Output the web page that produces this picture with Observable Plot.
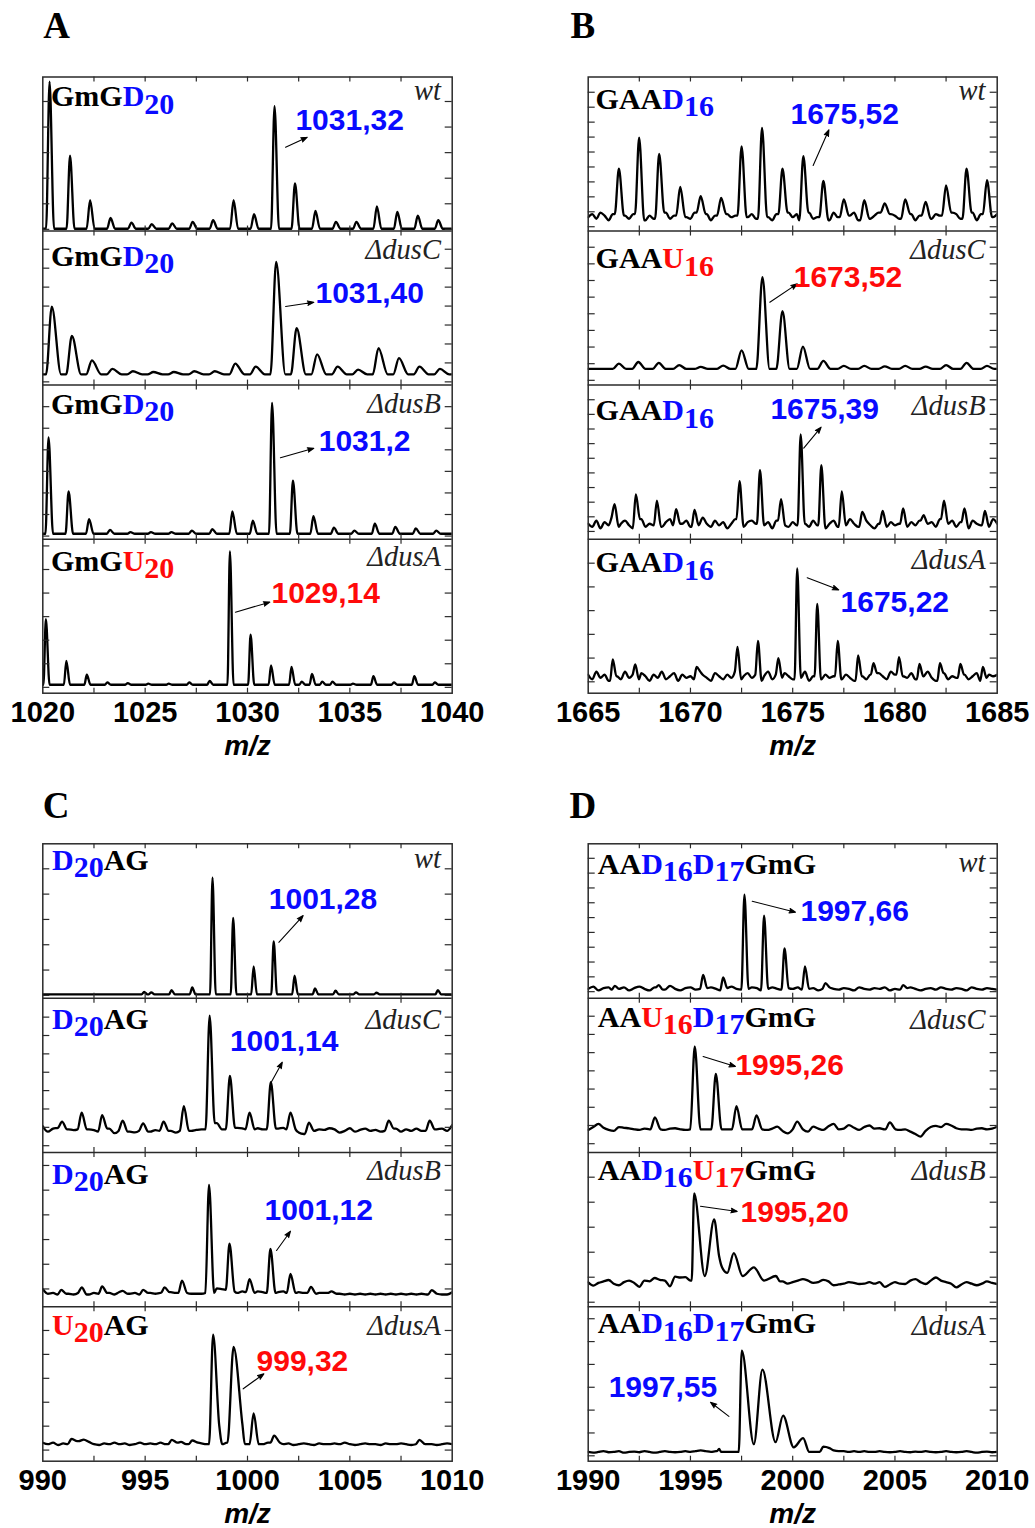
<!DOCTYPE html>
<html>
<head>
<meta charset="utf-8">
<script src="https://cdn.jsdelivr.net/npm/d3@7"></script>
<script src="https://cdn.jsdelivr.net/npm/@observablehq/plot@0.6"></script>
<style>
  html, body { margin: 0; padding: 0; background: #fff; }
  #fig { position: relative; width: 1035px; height: 1528px; background: #fff; overflow: hidden; }
  #fig > div { position: absolute; }
</style>
</head>
<body>
<div id="fig"></div>
<script>
// ---------------- data ----------------
const strains = ["wt", "ΔdusC", "ΔdusB", "ΔdusA"];

const domainA = [1020, 1040], domainB = [1665, 1685], domainC = [990, 1010], domainD = [1990, 2010];
const ticksA = [1020, 1025, 1030, 1035, 1040];
const ticksB = [1665, 1670, 1675, 1680, 1685];
const ticksC = [990, 995, 1000, 1005, 1010];
const ticksD = [1990, 1995, 2000, 2005, 2010];
const minorA = [1022.5, 1027.5, 1032.5, 1037.5];
const minorB = [1667.5, 1672.5, 1677.5, 1682.5];
const minorC = [992.5, 997.5, 1002.5, 1007.5];
const minorD = [1992.5, 1997.5, 2002.5, 2007.5];

const seqA = ["GmGD20", "GmGD20", "GmGD20", "GmGU20"];
const seqB = ["GAAD16", "GAAU16", "GAAD16", "GAAD16"];
const seqC = ["D20AG", "D20AG", "D20AG", "U20AG"];
const seqD = ["AAD16D17GmG", "AAU16D17GmG", "AAD16U17GmG", "AAD16D17GmG"];

const massA = ["1031,32", "1031,40", "1031,2", "1029,14"];
const massB = ["1675,52", "1673,52", "1675,39", "1675,22"];
const massC = ["1001,28", "1001,14", "1001,12", "999,32"];
const massD = ["1997,66", "1995,26", "1995,20", "1997,55"];

// peak lists: [m/z, relative intensity (0-100 of sub-panel), optional left/right half-width]
const peaksA_wt = [[1020.33,97],[1021.33,49],[1022.31,20],[1023.31,8.5],[1024.33,5.5],[1025.32,4.5],[1026.32,5],[1027.32,6],[1028.32,7],[1029.32,20],[1030.32,11],[1031.32,81],[1032.32,31],[1033.32,13],[1034.32,6],[1035.32,6],[1036.32,16],[1037.32,12.5],[1038.32,10],[1039.32,7]];
const peaksA_dusC = [[1020.44,51],[1021.42,32],[1022.4,16],[1023.4,10.5],[1024.4,9],[1025.4,8.5],[1026.4,8.5],[1027.4,9],[1028.4,9],[1029.4,14],[1030.4,12],[1031.4,80],[1032.4,37],[1033.4,20],[1034.4,12],[1035.4,10],[1036.4,24],[1037.4,17.5],[1038.4,12],[1039.4,10.5]];
const peaksA_dusB = [[1020.28,66],[1021.26,31],[1022.26,13],[1023.28,6],[1024.28,4.5],[1025.28,4.5],[1026.28,4.5],[1027.28,5.5],[1028.28,6.5],[1029.26,18],[1030.26,12],[1031.2,88.5],[1032.22,38],[1033.22,15],[1034.22,7.5],[1035.22,5.5],[1036.22,10],[1037.22,8],[1038.22,7],[1039.22,5.5]];
const peaksA_dusA = [[1020.15,48],[1021.15,21],[1022.15,12],[1023.15,7],[1024.15,6.5],[1025.15,6.2],[1026.15,6.2],[1027.15,7],[1028.15,8],[1029.14,92],[1030.15,38],[1031.15,18],[1032.15,17],[1032.65,7.5],[1033.15,12.5],[1033.65,7.5],[1034.15,7.5],[1035.15,6.2],[1036.15,11],[1037.15,7],[1038.15,11],[1039.15,7]];

const peaksB_wt = [[1666.5,40.5],[1667.49,60.6],[1668.47,50],[1669.5,28.6],[1670.5,22.7],[1671.5,21.6],[1672.5,55],[1673.5,67],[1674.5,40.5],[1675.52,48.7],[1676.5,32.5],[1677.5,20.6],[1678.5,20],[1679.5,18],[1680.5,20.6],[1681.5,19],[1682.5,29.7],[1683.5,40.5],[1684.5,33]];
const peaksB_dusC = [[1666.5,14],[1667.45,15],[1668.45,14.4],[1669.45,13],[1670.5,11.8],[1671.6,12.7],[1672.5,22.6],[1673.52,70],[1674.5,48],[1675.5,25],[1676.5,15.7],[1677.5,12.5],[1678.5,12.5],[1679.5,12.2],[1680.5,12.5],[1681.5,12],[1682.5,13],[1683.5,14.4],[1684.5,12.5]];
const peaksB_dusB = [[1666.29,22.7],[1667.33,29],[1668.36,25],[1669.3,19.5],[1670.2,19],[1672.4,37.7],[1673.4,44.8],[1674.43,26],[1675.39,68],[1676.4,48],[1677.4,31],[1678.4,17.7],[1679.4,18.4],[1680.4,20],[1681.4,15.6],[1682.4,25],[1683.4,20],[1684.4,18.4]];
const peaksB_dusA = [[1666.2,22],[1667.3,18.7],[1670.3,17],[1672.3,30],[1673.3,34],[1674.3,22.8],[1675.22,81],[1676.2,58],[1677.2,34],[1678.2,24.5],[1678.95,19.5],[1680.2,23.4],[1681.2,19],[1682.2,19.5],[1683.2,19],[1684.3,17]];

const peaksC_wt = [[994.95,4],[995.3,3.8],[996.29,5.2],[997.3,7],[998.29,78],[999.3,52],[1000.3,20.6],[1001.28,36.8],[1002.3,14.5],[1003.3,6.3],[1004.3,4.8],[1005.3,3.8],[1006.3,3.5],[1009.3,5.2]];
const peaksC_dusC = [[990.94,20],[991.9,25.8],[992.9,24.2],[993.9,20.6],[994.9,18.9],[995.9,20],[996.89,30],[998.15,88.6],[999.14,49.6],[1000.1,25.8],[1001.14,45.5],[1002.1,25.8],[1003.0,19.3],[1006.9,20.6],[1008.9,20.6]];
const peaksC_dusB = [[990.9,11],[991.9,12.6],[992.9,13.3],[993.9,10.4],[994.9,11],[995.95,12.6],[996.8,17],[998.12,79],[999.12,41],[1000.1,18],[1001.12,37.6],[1002.1,21.3],[1003.1,13],[1004.1,10],[1009.0,10.9]];
const peaksC_dusA = [[991.4,14.4],[996.3,13.8],[997.3,13.4],[998.32,82,0.2,0.25],[998.62,23,0.1,0.15],[999.32,74,0.3,0.45],[999.75,24,0.12,0.12],[1000.3,31,0.2,0.25],[1001.3,16.6],[1008.4,13.8]];

const peaksD_wt = [[1991.3,8],[1993.45,8.5],[1995.62,15],[1996.6,13.4],[1997.64,67],[1998.6,53.5],[1999.6,32.3],[2000.6,20.6],[2001.6,9.7],[2005.4,8.5]];
const peaksD_dusC = [[1993.26,22.7],[1995.21,68.7],[1996.24,51],[1997.25,30],[1998.23,24],[2000.22,20],[2004.75,19.5]];
const peaksD_dusB = [[1995.18,73.5,0.12,0.3],[1996.16,56.7,0.15,0.25],[1997.12,34.8,0.2,0.25],[1998.1,25.6,0.2,0.25],[1999.18,20,0.2,0.2]];
const valleysD_dusB = [[1995.7,20],[1996.4,33],[1996.55,25.5],[1996.8,22],[1997.55,20],[1998.6,17]];
const peaksD_dusA = [[1996.4,8,0.1,0.1],[1997.51,71.6,0.15,0.3],[1998.52,59.3],[1999.53,29.5],[2000.51,14.9],[2001.5,9.5]];
const valleysD_dusA = [[1998.1,11],[1999.16,12.3],[2000.05,9]];

// baseline traces read across each window (step 0.2 m/z for B, 0.25 m/z otherwise)
const noiseB_wt = [9,11,8,12,10,7,11,9,13,10, 8,11,9,12,7,10,8,11,9,12, 8,10,7,11,9,8,12,10,9,11, 7,10,12,8,11,9,10,7,12,9, 11,8,10,12,9,7,11,10,8,12, 9,11,7,10,12,8,9,11,10,7, 12,9,8,11,10,12,7,9,11,8, 10,12,9,7,11,10,8,12,9,11, 7,10,9,12,8,11,10,7,9,12, 11,8,10,9,12,7,11,10,8,9, 11];
const noiseB_dusB = [10,8,12,7,11,9,14,8,10,12, 9,7,11,13,8,10,9,12,8,11, 13,9,7,10,12,8,11,9,14,10, 8,12,9,11,7,10,13,9,8,11, 12,10,8,9,11,7,12,10,9,8, 11,9,13,10,8,12,9,11,7,10, 12,8,11,9,13,10,8,11,12,9, 7,10,12,8,11,9,10,13,8,11, 9,12,7,10,11,8,13,9,10,12, 8,11,9,7,12,10,9,11,8,13, 10];
const noiseB_dusA = [12,9,14,10,12,8,13,11,9,14, 10,12,9,13,11,8,12,10,14,9, 11,13,8,12,10,11,9,14,12,10, 8,13,11,9,12,10,14,9,11,13, 10,12,8,11,14,9,12,10,13,11, 9,12,10,14,8,11,13,9,12,10, 11,14,9,12,10,8,13,11,9,12, 10,13,11,9,14,12,8,11,10,13, 9,12,11,14,10,8,12,13,9,11, 10,14,12,9,11,13,8,10,12,11, 12];
const noiseC_dusC = [17,13.5,15.5,16,15,15,14.5,15,15,15, 14.5,13.5,15,15.5,12.5,14,14,13.5,13,14, 14,13.5,14.5,14,14,14,12.9,14,14,14, 14.6,15,15,15,19,15,15,15,16,15.7, 15,15,15.7,15,15,15,15.5,16,15,15, 13,12,14,14,15,14.6,15.7,15,12.9,14, 15.7,13.5,14.6,15.5,14,14.6,13.5,14,14,15.5, 13.5,15,14,15.5,14,14,14,15,15.5,14, 17.8];
const noiseC_dusB = [11.5,8.5,9,8,9,8.5,8,9,8.5,8, 9,8.5,8,9,8,9.5,8,8.5,9,8, 8.5,9,8.5,9,10,9.5,9,10,9,8.5, 8.5,8.5,9,9,12,11.5,11,10,9,10, 9.5,9,10,9.5,9,9,9.5,10,9,9, 9.5,9,9,8.5,9,9,9,8.5,8.5,8, 8.5,8,8.5,8,8.5,8,8.5,8,8.5,8, 8.5,8,8.5,8,8.5,8,8.5,8.5,8,8, 9.5];
const noiseC_dusA = [12,11,12,10.5,11.5,11,12,13,14,12.5, 11,10.5,11.5,11,12,11,11.5,10.5,11,12, 11,11.5,11,12,11,11.5,12,12.5,11,11.5, 12,11.5,11,11,11,11,12,12,11,11, 11,11,11,11,12,13,12,11,11.5,10.5, 11,11.5,11,10.5,11.5,11,11,11.5,11,12, 11,10.5,11,11.5,11,11,10.5,11.5,11,11, 11.5,11,10.5,11,11.5,11,11,10.5,11,11.5, 11];
const noiseD_wt = [6,7.5,5,6.5,7,5.5,6,7,5,6.5, 7.5,6,5,7,6,5.5,8,6,5,6.5, 7,5.5,6,6.5,7,6,5,6.5,7.5,6, 5.5,6,7,6.5,5,6,7,6,5.5,6.5, 6,7,5.5,6,6.5,5,6,7,6,5.5, 6.5,6,5,7,6,5.5,6.5,6,7,5, 6,5.5,6.5,7,6,5,6,6.5,5.5,7, 6,5.5,6.5,6,5,7,6,5.5,6.5,6, 5.5];
const noiseD_dusC = [14.6,16.5,18.5,16,14.6,14,16.5,16,15.7,15, 14.6,15.5,15,15,15,14.6,15.5,15.7,15,14.6, 15,15,15,15,15,15,15,15,15,15, 15,15,15,15,15,14.6,15.5,16.7,14,12.4, 15,15,15,13.5,16.7,15.5,14.6,17,18.5,15, 15.5,17.8,16,14.6,16.5,17.5,15.5,15.7,15,15, 15,14.6,15,13.5,12,10.3,14,16.5,17.2,16.5, 18.5,17.5,15.7,15,15,14.6,15.5,15.7,15,15.5, 16.7];
const noiseD_dusB = [15.9,13.7,15.5,16.5,17.4,15,14,16,17,15.5, 13,17,16.5,18.7,17.5,17,13.3,19.6,19,19.2, 17,16,16,16,16,16,16,16,16,16, 16,16,16,16,16,16,17,19,16.5,15, 16,17,18,17,15.5,16,17.5,16.5,14,14.5, 15,16,15.5,14.8,15,16,15,16,13,14.5, 16,15,14.8,17,18,16,14.8,17,19,17, 16,15,12.6,14.5,16,15,14,15,16.5,15.5, 14.8];
const noiseD_dusA = [6,5.5,6,6.5,5.8,6,6.5,5.5,6,6.2, 5.8,6.5,6,5.5,6,6.5,6,5.8,6,6.5, 6,6.5,7,6.5,6,6.5,6,6,6,6, 6,6,6,6,6,6,6,6,6,6, 6,6,6,6,6,6,7.5,8.5,7,6.5, 6.5,6,6.5,6,6.5,6,6,6.5,6,5.8, 6,6.5,6,5.8,6.2,6,6.5,6,5.8,6, 6.5,6,5.8,6,6.5,6,5.5,6,6.2,5.8, 6];

// ---------------- spectra settings (baseline level, peak half widths) ----------------
const spectraA = [
  {peaks: peaksA_wt, base: 1.5, wl: 0.17, wr: 0.22},
  {peaks: peaksA_dusC, base: 7, wl: 0.28, wr: 0.45},
  {peaks: peaksA_dusB, base: 3.5, wl: 0.15, wr: 0.22},
  {peaks: peaksA_dusA, base: 5.5, wl: 0.12, wr: 0.18}
];
const spectraB = [
  {peaks: peaksB_wt, noise: noiseB_wt, step: 0.2, wl: 0.2, wr: 0.25},
  {peaks: peaksB_dusC, base: 10.5, wl: 0.3, wr: 0.35},
  {peaks: peaksB_dusB, noise: noiseB_dusB, step: 0.2, wl: 0.15, wr: 0.2},
  {peaks: peaksB_dusA, noise: noiseB_dusA, step: 0.2, wl: 0.13, wr: 0.18}
];
const spectraC = [
  {peaks: peaksC_wt, base: 2.5, wl: 0.12, wr: 0.16},
  {peaks: peaksC_dusC, noise: noiseC_dusC, step: 0.25, wl: 0.2, wr: 0.25},
  {peaks: peaksC_dusB, noise: noiseC_dusB, step: 0.25, wl: 0.18, wr: 0.25},
  {peaks: peaksC_dusA, noise: noiseC_dusA, step: 0.25, wl: 0.18, wr: 0.28}
];
const spectraD = [
  {peaks: peaksD_wt, noise: noiseD_wt, step: 0.25, wl: 0.15, wr: 0.2},
  {peaks: peaksD_dusC, noise: noiseD_dusC, step: 0.25, wl: 0.22, wr: 0.28},
  {peaks: peaksD_dusB, valleys: valleysD_dusB, noise: noiseD_dusB, step: 0.25, wl: 0.15, wr: 0.2},
  {peaks: peaksD_dusA, valleys: valleysD_dusA, noise: noiseD_dusA, step: 0.25, wl: 0.18, wr: 0.3}
];

// ---------------- layout (positions in m/z and sub-panel units) ----------------
const BLUE = "#0a0aff", RED = "#ff0a0a";
const panels = [
  {id: "A", domain: domainA, ticks: ticksA, minor: minorA, seq: seqA, mass: massA, spectra: spectraA,
   left: 0, top: 0, w: 517, h: 770, ml: 42.3, mr: 65.3, mt: 76.5, mb: 77.3, letterDx: 0.5, letterDy: -38.8, mzDy: 61.5,
   seqX: 1020.4, seqU: [80.9, 77.6, 81.4, 79.6], strainX: 1039.45, strainU: [84.8, 82, 82, 82.3],
   massPos: [[1032.34, 65.9], [1033.32, 53.2], [1033.48, 56.9], [1031.17, 58.4]],
   arrows: [[1031.86, 54.4, 1032.92, 60.9], [1031.86, 51.0, 1033.24, 53.8], [1031.61, 52.8, 1033.24, 59.0], [1029.41, 52.6, 1031.09, 59.1]],
   yTicks: [[1.1, 16.6], [2.1, 12.3], [2, 14], [3.8, 15.3]]},
  {id: "B", domain: domainB, ticks: ticksB, minor: minorB, seq: seqB, mass: massB, spectra: spectraB,
   left: 517, top: 0, w: 518, h: 770, ml: 70.7, mr: 38.3, mt: 76.5, mb: 77.3, letterDx: -17.7, letterDy: -38.8, mzDy: 61.5,
   seqX: 1665.36, seqU: [79.4, 76.0, 77.3, 78.5], strainX: 1684.43, strainU: [84.8, 82, 80.5, 80.7],
   massPos: [[1674.89, 69.2], [1675.05, 63.5], [1673.91, 77.7], [1677.34, 52.6]],
   arrows: [[1676.0, 42.6, 1676.77, 65.7], [1673.88, 53.8, 1675.22, 65.7], [1675.54, 59.1, 1676.39, 72.7], [1675.71, 74.9, 1677.25, 67.1]],
   yTicks: [[2.8, 9.7], [3.1, 10.8], [5, 9.5], [7.4, 15.4]]},
  {id: "C", domain: domainC, ticks: ticksC, minor: minorC, seq: seqC, mass: massC, spectra: spectraC,
   left: 0, top: 770, w: 517, h: 758, ml: 42.3, mr: 65.3, mt: 73.3, mb: 67.3, letterDx: 0, letterDy: -25.6, mzDy: 61.5,
   seqX: 990.45, seqU: [83.2, 80.1, 79.7, 81.9], strainX: 1009.45, strainU: [84.4, 80.1, 81.9, 82],
   massPos: [[1001.04, 57.9], [999.14, 65.6], [1000.83, 56.4], [1000.44, 58.3]],
   arrows: [[1001.53, 36.2, 1002.72, 53.5], [1001.16, 45.5, 1001.70, 58.5], [1001.42, 36.5, 1002.10, 49.0], [999.79, 46.9, 1000.80, 56.6]],
   yTicks: [[1.8, 16.4], [4.4, 11.9], [11.6, 16], [7.2, 15.5]]},
  {id: "D", domain: domainD, ticks: ticksD, minor: minorD, seq: seqD, mass: massD, spectra: spectraD,
   left: 517, top: 770, w: 518, h: 758, ml: 70.7, mr: 38.3, mt: 73.3, mb: 67.3, letterDx: -18.7, letterDy: -25.6, mzDy: 61.5,
   seqX: 1990.47, seqU: [80.6, 81.6, 82.3, 82.9], strainX: 2009.43, strainU: [81.6, 80.1, 82, 82],
   massPos: [[2000.38, 50.3], [1997.2, 50.5], [1997.45, 54.8], [1991.0, 41.9]],
   arrows: [[1998.02, 62.8, 2000.14, 55.7], [1995.62, 62.2, 1997.2, 55.7], [1995.49, 65.2, 1997.29, 61.8], [1996.88, 29.0, 1995.98, 38.2]],
   yTicks: [[4.2, 9.6], [5.7, 11.8], [3, 16.2], [3.5, 14.8]]}
];

// ---------------- build a trace from the peak list + baseline readings ----------------
function buildSpectrum(s, d0, d1) {
  const pk = s.peaks.map(([c, h, l, r]) => ({c, h, l: l ?? s.wl, r: r ?? s.wr}));
  const inWinIncl = x => pk.some(p => x >= p.c - p.l - 1e-9 && x <= p.c + p.r + 1e-9);
  const inOtherWin = (x, self) => pk.some(p => p !== self && x > p.c - p.l && x < p.c + p.r);
  const baseAt = x => s.noise ? s.noise[Math.max(0, Math.min(s.noise.length - 1, Math.round((x - d0) / s.step)))] : s.base;
  let pts = [];
  if (s.noise) {
    s.noise.forEach((v, i) => { const x = d0 + i * s.step; if (!inWinIncl(x)) pts.push({mz: x, v, t: "n"}); });
  } else {
    [d0, d1].forEach(x => { if (!inWinIncl(x)) pts.push({mz: x, v: s.base, t: "n"}); });
  }
  pk.forEach(p => {
    pts.push({mz: p.c, v: p.h, t: "a"});
    [p.c - p.l, p.c + p.r].forEach(x => { if (!inOtherWin(x, p)) pts.push({mz: x, v: baseAt(x), t: "b"}); });
  });
  const apexes = pk.map(p => p.c);
  (s.valleys || []).forEach(([x, v]) => {
    const a1 = d3.max(apexes.filter(a => a < x)), a2 = d3.min(apexes.filter(a => a > x));
    pts = pts.filter(p => !((p.t === "n" || p.t === "b") && p.mz > a1 && p.mz < a2));
    pts.push({mz: x, v, t: "v"});
  });
  pts.sort((a, b) => a.mz - b.mz);
  const out = [];
  pts.forEach(p => {
    const last = out[out.length - 1];
    if (last && Math.abs(last.mz - p.mz) < 1e-6) { if (p.t === "a" || p.t === "v") out[out.length - 1] = p; }
    else out.push(p);
  });
  return out;
}

// ---------------- rich sequence labels (colored nucleosides + subscripts) ----------------
function richify(el) {
  const t = el.textContent;
  const re = /([DU])(\d+)|([^DU]+)|([DU])/g;
  while (el.firstChild) el.removeChild(el.firstChild);
  const SUB = 7.5;
  let shifted = false, m;
  const add = (txt, fill, dy) => {
    const ts = document.createElementNS("http://www.w3.org/2000/svg", "tspan");
    ts.textContent = txt;
    if (fill) ts.setAttribute("fill", fill);
    if (dy) ts.setAttribute("dy", dy);
    el.appendChild(ts);
  };
  while ((m = re.exec(t))) {
    if (m[1]) {
      const col = m[1] === "D" ? BLUE : RED;
      add(m[1], col, shifted ? -SUB : 0);
      add(m[2], col, SUB);
      shifted = true;
    } else {
      add(m[3] || m[4], null, shifted ? -SUB : 0);
      shifted = false;
    }
  }
}

// ---------------- draw ----------------
const fig = document.getElementById("fig");
const FRAME = "#2a2a2a";

panels.forEach(P => {
  const [d0, d1] = P.domain;
  const rows = [];
  P.spectra.forEach((s, k) => {
    buildSpectrum(s, d0, d1).forEach(p => rows.push({strain: strains[k], mz: p.mz, y: (3 - k) * 100 + p.v}));
  });
  const pxPerMz = (P.w - P.ml - P.mr) / (d1 - d0);
  const pxPerU = (P.h - P.mt - P.mb) / 400;
  const tX = 5 / pxPerU;     // x-tick length in y units
  const tY = 7 / pxPerMz;    // y-tick length in m/z units
  const innerX = [...P.ticks.slice(1, -1), ...P.minor];
  const xTickRules = [];
  for (let k = 0; k < 4; k++) {
    innerX.forEach(x => {
      xTickRules.push({x, y1: k * 100, y2: k * 100 + tX});
      xTickRules.push({x, y1: (k + 1) * 100, y2: (k + 1) * 100 - tX});
    });
  }
  const yTickRules = [];
  P.yTicks.forEach(([start, step], k) => {
    const off = (3 - k) * 100;
    d3.range(start, 99, step).forEach(u => {
      if (u < 1) return;
      yTickRules.push({y: off + u, x1: d0, x2: d0 + tY});
      yTickRules.push({y: off + u, x1: d1 - tY, x2: d1});
    });
  });
  const seqLabels = P.seq.map((s, k) => ({text: s, x: P.seqX, y: (3 - k) * 100 + P.seqU[k]}));
  const strainLabels = strains.map((s, k) => ({text: s, x: P.strainX, y: (3 - k) * 100 + P.strainU[k]}));
  const massLabels = P.mass.map((s, k) => ({text: s, x: P.massPos[k][0], y: (3 - k) * 100 + P.massPos[k][1],
    color: P.seq[k].includes("U") ? RED : BLUE}));
  const arrows = P.arrows.map((a, k) => ({x1: a[0], y1: (3 - k) * 100 + a[1], x2: a[2], y2: (3 - k) * 100 + a[3]}));

  const svg = Plot.plot({
    width: P.w, height: P.h,
    marginLeft: P.ml, marginRight: P.mr, marginTop: P.mt, marginBottom: P.mb,
    x: {domain: P.domain, ticks: P.ticks, tickSize: 0, tickPadding: 8, tickFormat: d => String(d), label: null},
    y: {domain: [0, 400], axis: null},
    color: {type: "identity"},
    style: {fontFamily: "'Liberation Sans', Arial, Helvetica, sans-serif", fontSize: "29px", fontWeight: "bold",
            color: "black", overflow: "visible", background: "transparent"},
    marks: [
      Plot.line(rows, {x: "mz", y: "y", z: "strain", curve: "monotone-x", stroke: "black", strokeWidth: 2.3, clip: true}),
      Plot.ruleY([100, 200, 300], {stroke: FRAME, strokeWidth: 1.5}),
      Plot.frame({stroke: FRAME, strokeWidth: 1.5}),
      Plot.ruleX(xTickRules, {x: "x", y1: "y1", y2: "y2", stroke: FRAME, strokeWidth: 1.2}),
      Plot.ruleY(yTickRules, {y: "y", x1: "x1", x2: "x2", stroke: FRAME, strokeWidth: 1.2}),
      Plot.arrow(arrows, {x1: "x1", y1: "y1", x2: "x2", y2: "y2", stroke: "black", fill: "black", strokeWidth: 1.1, headLength: 9, headAngle: 40}),
      Plot.text(seqLabels, {x: "x", y: "y", text: "text", textAnchor: "start", lineAnchor: "bottom",
        fontFamily: "'Liberation Serif', 'Times New Roman', serif", fontSize: 30, fontWeight: "bold", fill: "black"}),
      Plot.text(strainLabels, {x: "x", y: "y", text: "text", textAnchor: "end", lineAnchor: "bottom",
        fontFamily: "'Liberation Serif', 'Times New Roman', serif", fontSize: 28.5, fontStyle: "italic", fontWeight: "normal", fill: "#222"}),
      Plot.text(massLabels, {x: "x", y: "y", text: "text", textAnchor: "start", lineAnchor: "bottom",
        fontSize: 30, fontWeight: "bold", fill: d => d.color}),
      Plot.text([P.id], {text: d => d, frameAnchor: "top-left", textAnchor: "start", lineAnchor: "bottom",
        dx: P.letterDx, dy: P.letterDy, fontFamily: "'Liberation Serif', 'Times New Roman', serif", fontSize: 37, fontWeight: "bold", fill: "black"}),
      Plot.text(["m/z"], {text: d => d, frameAnchor: "bottom", lineAnchor: "bottom", dy: P.mzDy,
        fontSize: 28, fontWeight: "bold", fontStyle: "italic", fill: "black"})
    ]
  });

  d3.select(svg).selectAll("text").each(function() {
    const t = this.textContent;
    if (/^[A-Za-z0-9]+$/.test(t) && /[DU]\d/.test(t)) richify(this);
  });

  const holder = document.createElement("div");
  holder.style.left = P.left + "px";
  holder.style.top = P.top + "px";
  holder.style.width = P.w + "px";
  holder.style.height = P.h + "px";
  holder.appendChild(svg);
  fig.appendChild(holder);
});
</script>
</body>
</html>
